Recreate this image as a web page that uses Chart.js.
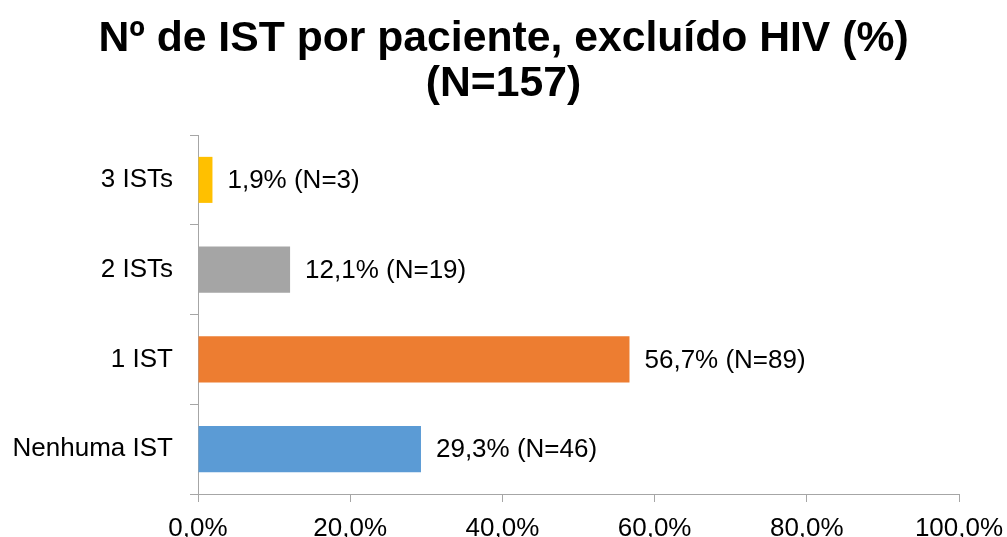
<!DOCTYPE html>
<html>
<head>
<meta charset="utf-8">
<script src="https://cdn.jsdelivr.net/npm/chart.js@4/dist/chart.umd.min.js"></script>
<style>
  html, body { margin: 0; padding: 0; background: #ffffff; }
  #wrap { width: 1007px; height: 537px; position: relative; }
</style>
</head>
<body>
<div id="wrap"><canvas id="c"></canvas></div>
<script>
const categories = ['3 ISTs', '2 ISTs', '1 IST', 'Nenhuma IST'];
const percentValues = [1.9, 12.1, 56.7, 29.3];
const patientCounts = [3, 19, 89, 46];
const barColors = ['#FFC000', '#A5A5A5', '#ED7D31', '#5B9BD5'];
const xTickValues = [0, 20, 40, 60, 80, 100];
const titleLines = ['Nº de IST por paciente, excluído HIV (%)', '(N=157)'];

const FONT = "'Liberation Sans', Arial, sans-serif";
const AXIS_COLOR = '#A6A6A6';

function fmtPct(v) { return v.toFixed(1).replace('.', ',') + '%'; }

const pageTitle = {
  id: 'pageTitle',
  afterDraw(chart) {
    const ctx = chart.ctx;
    ctx.save();
    ctx.font = 'bold 42.7px ' + FONT;
    ctx.fillStyle = '#000000';
    ctx.textAlign = 'center';
    ctx.textBaseline = 'alphabetic';
    const cx = chart.width / 2;
    ctx.fillText(titleLines[0], cx, 51);
    ctx.fillText(titleLines[1], cx, 96);
    ctx.restore();
  }
};

const barLabels = {
  id: 'barLabels',
  afterDatasetsDraw(chart) {
    const ctx = chart.ctx;
    const meta = chart.getDatasetMeta(0);
    ctx.save();
    ctx.font = '26px ' + FONT;
    ctx.fillStyle = '#000000';
    ctx.textAlign = 'left';
    ctx.textBaseline = 'middle';
    meta.data.forEach((bar, i) => {
      const txt = fmtPct(percentValues[i]) + ' (N=' + patientCounts[i] + ')';
      ctx.fillText(txt, bar.x + 15, bar.y + 1);
    });
    ctx.restore();
  }
};

new Chart(document.getElementById('c'), {
  type: 'bar',
  data: {
    labels: categories,
    datasets: [{
      data: percentValues,
      backgroundColor: barColors,
      borderWidth: 0,
      categoryPercentage: 1.0,
      barPercentage: 0.513
    }]
  },
  options: {
    indexAxis: 'y',
    responsive: true,
    maintainAspectRatio: false,
    animation: false,
    layout: { padding: { left: 0, right: 48, top: 135, bottom: 0 } },
    plugins: {
      legend: { display: false },
      tooltip: { enabled: false },
      title: { display: false }
    },
    scales: {
      x: {
        min: 0,
        max: 100,
        afterBuildTicks(scale) { scale.ticks = xTickValues.map(v => ({ value: v })); },
        afterFit(scale) { scale.height = 43; scale.paddingLeft = 0; scale.paddingRight = 0; },
        border: { display: true, color: AXIS_COLOR, width: 1 },
        grid: { display: true, drawOnChartArea: false, drawTicks: true, tickLength: 8, color: AXIS_COLOR },
        ticks: {
          color: '#000000',
          font: { family: FONT, size: 26 },
          padding: 11,
          maxRotation: 0,
          autoSkip: false,
          callback: (v) => fmtPct(v)
        }
      },
      y: {
        afterFit(scale) { scale.width = 198; scale.paddingTop = 0; scale.paddingBottom = 0; },
        border: { display: true, color: AXIS_COLOR, width: 1 },
        grid: { display: true, offset: true, drawOnChartArea: false, drawTicks: true, tickLength: 8, color: AXIS_COLOR },
        ticks: {
          color: '#000000',
          font: { family: FONT, size: 26 },
          padding: 17
        }
      }
    }
  },
  plugins: [barLabels, pageTitle]
});
</script>
</body>
</html>
